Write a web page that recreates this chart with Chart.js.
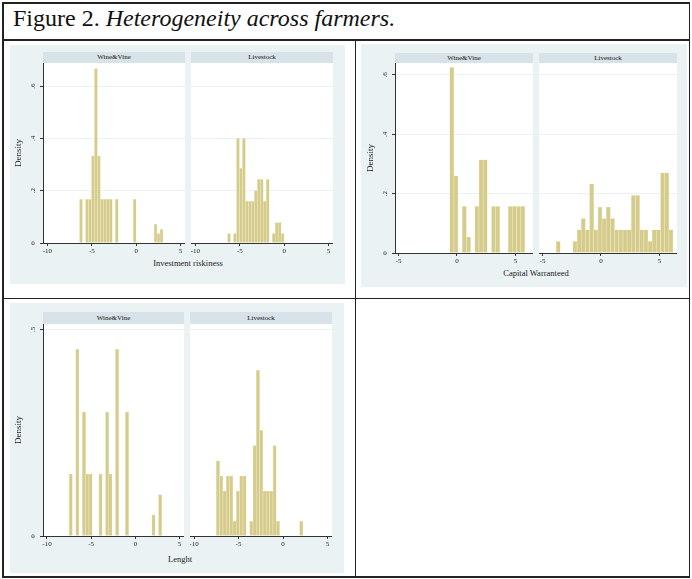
<!DOCTYPE html>
<html>
<head>
<meta charset="utf-8">
<script src="https://cdn.jsdelivr.net/npm/chart.js@4.4.0/dist/chart.umd.min.js"></script>
<style>
  body { margin: 0; width: 692px; height: 579px; background: #fff; position: relative; overflow: hidden;
         font-family: "Liberation Serif", "DejaVu Serif", serif; color: #222; }
  .line { position: absolute; background: #222; }
  .bg { position: absolute; background: #eaf2f3; }
  .head { position: absolute; background: #d7e3e8; font-size: 7px; text-align: center; white-space: nowrap; color: #111; }
  .box { position: absolute; }
  .xt { position: absolute; font-size: 8.5px; transform: translate(-50%, -50%); white-space: nowrap; }
  #title { position: absolute; left: 13px; top: 5px; font-size: 24px; color: #111; white-space: nowrap; }
</style>
</head>
<body>
<div id="title">Figure 2. <i>Heterogeneity across farmers.</i></div>
<script>
// groups shown side by side in every panel
const groups = ['Wine&Vine', 'Livestock'];

// Investment riskiness: densities per bin (bins of equal width from riskBinStart)
const riskBinStart = -6.384;
const riskBinWidth = 0.336;
const riskWine = [0.167, 0, 0.167, 0.167, 0.333, 0.667, 0.333, 0.167, 0.167, 0.167, 0.167, 0, 0.167, 0,
                  0, 0, 0, 0, 0.167, 0, 0, 0, 0, 0, 0, 0.072, 0.036, 0.052];
const riskLivestock = [0.036, 0, 0.036, 0.4, 0.286, 0.4, 0.16, 0.16, 0.16, 0.2, 0.243, 0.243, 0.16, 0.243,
                       0, 0.036, 0.078, 0.078, 0.036, 0, 0, 0, 0, 0, 0, 0, 0, 0];
const riskYTicks = [0, 0.2, 0.4, 0.6];

// Capital Warranteed
const capBinStart = -3.833;
const capBinWidth = 0.357;
const capWine = [0, 0, 0, 0, 0, 0, 0, 0, 0, 0.625, 0.26, 0, 0.157, 0.054, 0, 0.157, 0.314, 0.314, 0,
                 0.157, 0.157, 0, 0, 0.157, 0.157, 0.157, 0.157, 0];
const capLivestock = [0.039, 0, 0, 0, 0.039, 0.078, 0.116, 0.078, 0.233, 0.078, 0.155, 0.116, 0.155, 0.116,
                      0.078, 0.078, 0.078, 0.078, 0.194, 0.194, 0.078, 0.078, 0.039, 0.078, 0.078, 0.27, 0.27, 0.078];
const capYTicks = [0, 0.2, 0.4, 0.6];

// Lenght
const lenBinStart = -7.5;
const lenBinWidth = 0.3746;
const lenWine = [0.15, 0, 0.452, 0, 0.3, 0.15, 0.15, 0, 0, 0.15, 0, 0.3, 0.15, 0, 0.452, 0, 0, 0.3,
                 0, 0, 0, 0, 0, 0, 0, 0.051, 0, 0.1];
const lenLivestock = [0.182, 0.145, 0.109, 0.145, 0.145, 0.036, 0.109, 0.145, 0.145, 0, 0.036, 0.219, 0.401,
                      0.256, 0.109, 0.109, 0.109, 0.219, 0.036, 0, 0, 0, 0, 0, 0, 0.036, 0, 0];
const lenYTicks = [0, 0.5];

const xTicksWide = [-10, -5, 0, 5];
const xTicksCap = [-5, 0, 5];

const FONT = '"Liberation Serif", "DejaVu Serif", serif';
const barFill = 'rgb(212,203,140)';
const barEdge = 'rgb(238,234,196)';
const gridColor = '#eaf2f3';
const axisColor = '#333';

function line(x, y, w, h) {
  const d = document.createElement('div');
  d.className = 'line';
  Object.assign(d.style, { left: x + 'px', top: y + 'px', width: w + 'px', height: h + 'px' });
  document.body.appendChild(d);
}

function block(cls, x, y, w, h, text) {
  const d = document.createElement('div');
  d.className = cls;
  Object.assign(d.style, { left: x + 'px', top: y + 'px', width: w + 'px', height: h + 'px' });
  if (text) { d.textContent = text; d.style.lineHeight = h + 'px'; }
  document.body.appendChild(d);
  return d;
}

function fmtDensity(v) {
  return v === 0 ? '0' : String(v).replace(/^0/, '');
}

// white plot region behind the bars
const plotBg = {
  id: 'plotBg',
  beforeDraw(chart) {
    const a = chart.chartArea, ctx = chart.ctx;
    ctx.save();
    ctx.fillStyle = '#fff';
    ctx.fillRect(a.left, a.top, a.right - a.left, a.bottom - a.top);
    ctx.restore();
  }
};

// y tick labels turned 90 degrees like Stata draws them
const yLabels = {
  id: 'yLabels',
  afterDraw(chart, args, opts) {
    if (!opts.show) return;
    const s = chart.scales.y, ctx = chart.ctx;
    ctx.save();
    ctx.fillStyle = '#222';
    ctx.font = '7px ' + FONT;
    ctx.textAlign = 'center';
    ctx.textBaseline = 'middle';
    s.ticks.forEach(t => {
      ctx.save();
      ctx.translate(s.right - opts.offset, s.getPixelForValue(t.value));
      ctx.rotate(-Math.PI / 2);
      ctx.fillText(fmtDensity(t.value), 0, 0);
      ctx.restore();
    });
    ctx.restore();
  }
};

function histogram(p, g) {
  const first = g === 0;
  const yw = first ? 30 : 0;
  const left = p.plotX[g] - yw;
  const box = block('box', left, p.plotTop, yw + p.plotW[g], p.plotH + 14);
  const canvas = document.createElement('canvas');
  box.appendChild(canvas);
  const points = p.values[g].map((v, i) => ({ x: p.binStart + (i + 0.5) * p.binWidth, y: v }));
  new Chart(canvas, {
    type: 'bar',
    data: {
      datasets: [{
        data: points,
        backgroundColor: barFill,
        borderColor: barEdge,
        borderWidth: 0.6,
        barPercentage: 1,
        categoryPercentage: 1
      }]
    },
    options: {
      responsive: true,
      maintainAspectRatio: false,
      animation: false,
      layout: { padding: 0, autoPadding: false },
      plugins: {
        legend: { display: false },
        tooltip: { enabled: false },
        yLabels: { show: first, offset: 10 }
      },
      scales: {
        x: {
          type: 'linear',
          min: p.xMin,
          max: p.xMax,
          offset: false,
          afterBuildTicks: s => { s.ticks = p.xTicks.map(v => ({ value: v })); },
          afterFit: s => { s.height = 14; s.paddingLeft = 0; s.paddingRight = 0; },
          grid: { offset: false, drawOnChartArea: false, drawTicks: true, tickLength: 3, tickColor: axisColor },
          border: { display: true, color: axisColor, width: 1 },
          ticks: { padding: 1, color: '#222', font: { family: FONT, size: 7 }, maxRotation: 0, autoSkip: false }
        },
        y: {
          min: 0,
          max: p.yMax,
          afterBuildTicks: s => { s.ticks = p.yTicks.map(v => ({ value: v })); },
          afterFit: s => { s.width = yw; },
          grid: {
            color: c => (c.tick && c.tick.value === 0) ? 'rgba(0,0,0,0)' : gridColor,
            drawTicks: first,
            tickLength: 3,
            tickColor: axisColor
          },
          border: { display: first, color: axisColor, width: 1 },
          ticks: { display: false },
          title: {
            display: first, text: 'Density', color: '#222',
            font: { family: FONT, size: 9 }, padding: { top: 0, bottom: 0 }
          }
        }
      }
    },
    plugins: [plotBg, yLabels]
  });
}

const panels = [
  { bg: [10, 45, 335, 239], headTop: 52, headH: 11, plotTop: 63, plotH: 180,
    plotX: [43, 191], plotW: [142, 142], xMin: -10.5, xMax: 5.5, xTicks: xTicksWide,
    yMax: 0.688, yTicks: riskYTicks, binStart: riskBinStart, binWidth: riskBinWidth,
    values: [riskWine, riskLivestock], xTitle: 'Investment riskiness', xTitlePos: [188, 263] },
  { bg: [361, 44, 326, 243], headTop: 53, headH: 10, plotTop: 63, plotH: 190,
    plotX: [395, 539], plotW: [138, 138], xMin: -5.3, xMax: 6.5, xTicks: xTicksCap,
    yMax: 0.64, yTicks: capYTicks, binStart: capBinStart, binWidth: capBinWidth,
    values: [capWine, capLivestock], xTitle: 'Capital Warranteed', xTitlePos: [536, 273] },
  { bg: [10, 303, 334, 270], headTop: 312, headH: 12, plotTop: 324, plotH: 212,
    plotX: [43, 190], plotW: [141, 142], xMin: -10.45, xMax: 5.5, xTicks: xTicksWide,
    yMax: 0.513, yTicks: lenYTicks, binStart: lenBinStart, binWidth: lenBinWidth,
    values: [lenWine, lenLivestock], xTitle: 'Lenght', xTitlePos: [180, 559] }
];

// table frame
line(2, 2, 688, 1.5);
line(2, 39, 688, 1.5);
line(2, 297.5, 688, 1.5);
line(2, 576, 688, 1.5);
line(2, 2, 1.5, 575.5);
line(688.5, 2, 1.5, 575.5);
line(354.5, 39, 1.5, 538.5);

panels.forEach(p => {
  block('bg', p.bg[0], p.bg[1], p.bg[2], p.bg[3]);
  groups.forEach((name, g) => {
    block('head', p.plotX[g], p.headTop, p.plotW[g], p.headH, name);
    histogram(p, g);
  });
  const t = block('xt', p.xTitlePos[0], p.xTitlePos[1], 0, 0);
  t.style.width = 'auto';
  t.style.height = 'auto';
  t.textContent = p.xTitle;
});
</script>
</body>
</html>
